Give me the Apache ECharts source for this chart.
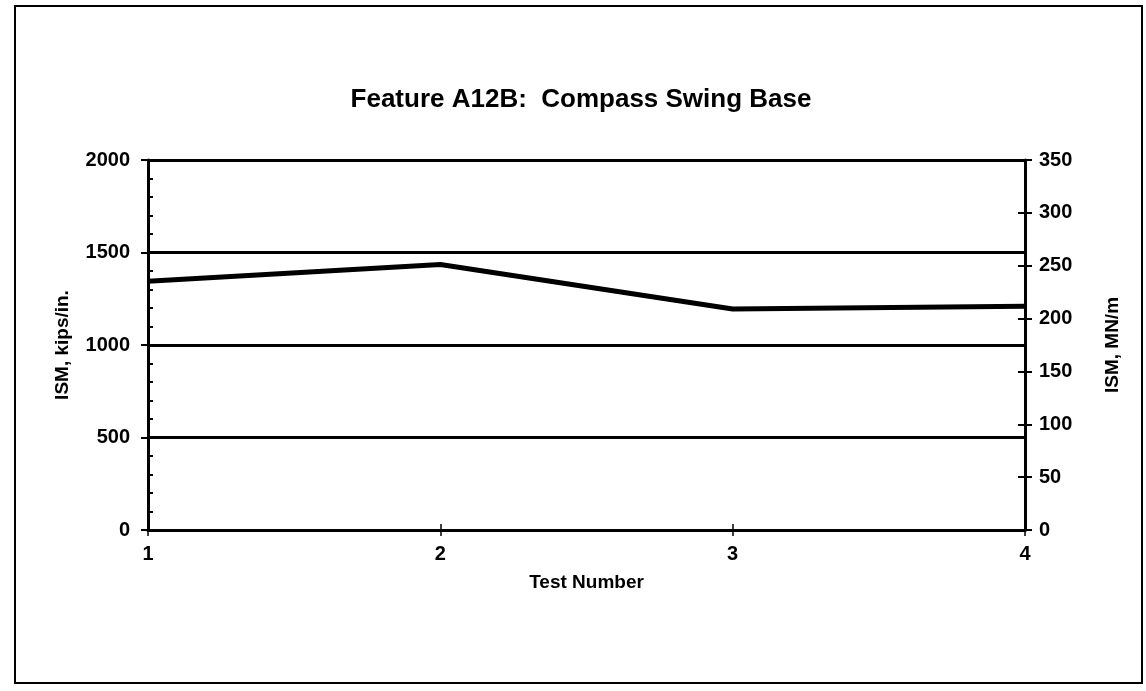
<!DOCTYPE html>
<html>
<head>
<meta charset="utf-8">
<script src="https://cdn.jsdelivr.net/npm/echarts@6/dist/echarts.min.js"></script>
<style>html,body{margin:0;padding:0;background:#fff;}#c{width:1146px;height:691px;}</style>
</head>
<body>
<div id="c"></div>
<script>
const titleText = 'Feature A12B:  Compass Swing Base';
const categories = ['1', '2', '3', '4'];
const ismKips = [1345, 1435, 1195, 1210];
const leftTicks = [0, 500, 1000, 1500, 2000];
const rightTicks = [0, 50, 100, 150, 200, 250, 300, 350];

const font = 'Liberation Sans, Arial, sans-serif';
const chart = echarts.init(document.getElementById('c'));
const lab = {color: '#000', fontFamily: font, fontWeight: 'bold', fontSize: 20};
const nameStyle = {color: '#000', fontFamily: font, fontWeight: 'bold', fontSize: 19};
const plain = v => String(v);
chart.setOption({
  backgroundColor: '#fff',
  animation: false,
  title: {text: titleText, left: 576, top: 82, textAlign: 'center',
    textStyle: {color: '#000', fontFamily: font, fontWeight: 'bold', fontSize: 26}},
  graphic: [{type: 'rect', shape: {x: 15, y: 6, width: 1127, height: 677},
    style: {fill: 'none', stroke: '#000', lineWidth: 2}, z: -1}],
  grid: {left: 148, right: 121, top: 160, bottom: 161},
  xAxis: [{type: 'category', data: categories, boundaryGap: false,
    axisLine: {lineStyle: {color: '#000', width: 3}},
    axisTick: {show: true, length: 6, lineStyle: {color: '#000', width: 1.5}},
    axisLabel: Object.assign({margin: 14}, lab),
    name: 'Test Number', nameLocation: 'middle', nameGap: 43,
    nameTextStyle: Object.assign({}, nameStyle)},
  {type: 'category', data: categories, boundaryGap: false, position: 'bottom',
    axisLine: {show: false}, axisTick: {show: true, inside: true, length: 6, lineStyle: {color: '#000', width: 1.5}},
    axisLabel: {show: false}}],
  yAxis: [
    {type: 'value', min: leftTicks[0], max: leftTicks[leftTicks.length-1], interval: 500, position: 'left',
      axisLine: {show: true, lineStyle: {color: '#000', width: 3}},
      axisTick: {show: true, length: 7, lineStyle: {color: '#000', width: 2}},
      axisLabel: Object.assign({margin: 18, formatter: plain}, lab),
      splitLine: {show: true, lineStyle: {color: '#000', width: 3}},
      name: 'ISM, kips/in.', nameLocation: 'middle', nameGap: 76,
      nameTextStyle: Object.assign({}, nameStyle)},
    {type: 'value', min: rightTicks[0], max: rightTicks[rightTicks.length-1], interval: 50, position: 'right',
      axisLine: {show: true, lineStyle: {color: '#000', width: 3}},
      axisTick: {show: true, length: 7, lineStyle: {color: '#000', width: 2}},
      axisLabel: Object.assign({margin: 14, formatter: plain}, lab),
      splitLine: {show: false},
      name: 'ISM, MN/m', nameLocation: 'middle', nameGap: 78, nameRotate: 90,
      nameTextStyle: Object.assign({}, nameStyle)},
    {type: 'value', min: 0, max: 2000, interval: 100, position: 'left', gridIndex: 0,
      axisLine: {show: false}, axisTick: {show: true, inside: true, length: 5, lineStyle: {color: '#000', width: 2}},
      axisLabel: {show: false}, splitLine: {show: false}},
    {type: 'value', min: 0, max: 350, interval: 50, position: 'right',
      axisLine: {show: false}, axisTick: {show: true, inside: true, length: 7, lineStyle: {color: '#000', width: 2}},
      axisLabel: {show: false}, splitLine: {show: false}}
  ],
  series: [{type: 'line', data: ismKips, xAxisIndex: 0, yAxisIndex: 0, symbol: 'none',
    lineStyle: {color: '#000', width: 5}}]
});
</script>
</body>
</html>
